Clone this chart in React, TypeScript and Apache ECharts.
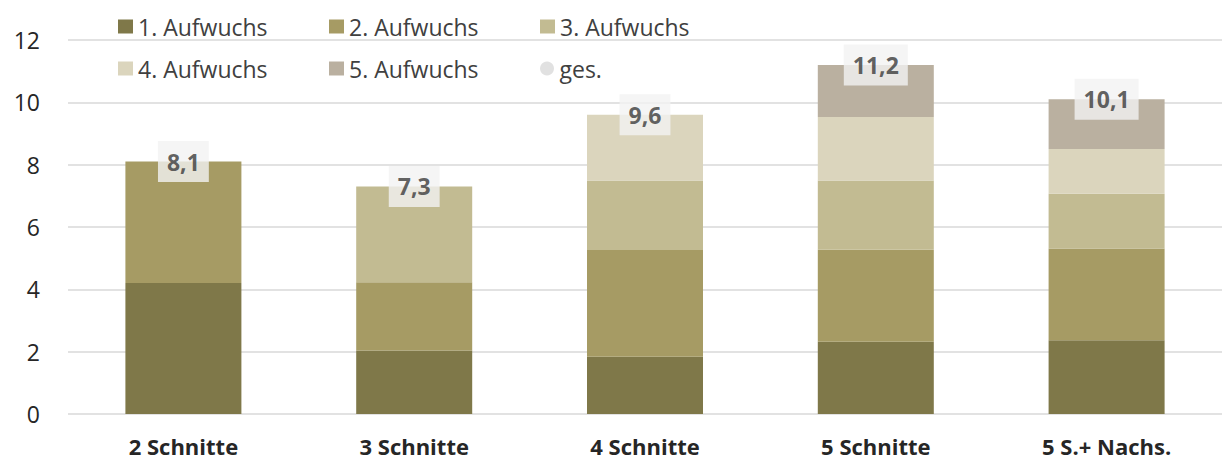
import React, { useEffect, useRef } from "react";
import * as echarts from "echarts";

const categories = ["2 Schnitte", "3 Schnitte", "4 Schnitte", "5 Schnitte", "5 S.+ Nachs."];
const seriesNames = ["1. Aufwuchs", "2. Aufwuchs", "3. Aufwuchs", "4. Aufwuchs", "5. Aufwuchs"];
const aufwuchs1 = [4.2, 2.04, 1.84, 2.32, 2.37];
const aufwuchs2 = [3.9, 2.19, 3.42, 2.95, 2.94];
const aufwuchs3 = [null, 3.07, 2.23, 2.22, 1.76];
const aufwuchs4 = [null, null, 2.11, 2.04, 1.43];
const aufwuchs5 = [null, null, null, 1.67, 1.6];
const totals = [8.1, 7.3, 9.6, 11.2, 10.1];
const totalName = "ges.";
const yTicks = { min: 0, max: 12, interval: 2 };

const colors = ["#7f7849", "#a69b64", "#c2bb92", "#dbd5bd", "#bab0a0"];
const FONT = "'Open Sans', Lato, sans-serif";

export default function App() {
  const ref = useRef<HTMLDivElement>(null);
  useEffect(() => {
    if (!ref.current) return;
    const chart = echarts.init(ref.current, undefined, { renderer: "svg" });
    const stacks = [aufwuchs1, aufwuchs2, aufwuchs3, aufwuchs4, aufwuchs5];
    const barSeries = stacks.map((d, i) => ({
      name: seriesNames[i],
      type: "bar",
      stack: "total",
      data: d,
      barWidth: 116,
      itemStyle: { color: colors[i] },
      emphasis: { disabled: true },
    }));
    const legendCommon = {
      left: 113,
      itemWidth: 15,
      itemHeight: 14,
      itemGap: 15,
      selectedMode: false,
      textStyle: {
        fontFamily: FONT,
        fontSize: 23,
        color: "#404040",
        width: 176,
        lineHeight: 20,
      },
    };
    chart.setOption({
      animation: false,
      textStyle: { fontFamily: FONT },
      legend: [
        {
          ...legendCommon,
          top: 10,
          data: seriesNames.slice(0, 3).map((n) => ({ name: n, icon: "rect" })),
        },
        {
          ...legendCommon,
          top: 52,
          data: [
            ...seriesNames.slice(3, 5).map((n) => ({ name: n, icon: "rect" })),
            { name: totalName, icon: "circle", itemStyle: { color: "#d9d9d9" } },
          ],
        },
      ],
      grid: { left: 68, top: 40, width: 1167, height: 374 },
      xAxis: {
        type: "category",
        data: categories,
        axisLine: { show: false },
        axisTick: { show: false },
        axisLabel: {
          fontFamily: FONT,
          fontSize: 22,
          fontWeight: "bold",
          color: "#262626",
          lineHeight: 20,
          margin: 22,
        },
      },
      yAxis: {
        type: "value",
        min: yTicks.min,
        max: yTicks.max,
        interval: yTicks.interval,
        axisLine: { show: false },
        axisTick: { show: false },
        splitLine: { lineStyle: { color: "#d9d9d9", width: 1.5 } },
        axisLabel: { fontFamily: FONT, fontSize: 23, color: "#262626", margin: 28 },
      },
      series: [
        ...barSeries,
        {
          name: totalName,
          type: "scatter",
          data: totals,
          symbolSize: 0.001,
          itemStyle: { color: "#d9d9d9" },
          z: 10,
          emphasis: { disabled: true },
          label: {
            show: true,
            position: "inside",
            formatter: (p: any) => Number(p.value).toFixed(1).replace(".", ","),
            fontFamily: FONT,
            fontSize: 23,
            fontWeight: "bold",
            color: "#3a3a3a",
            backgroundColor: "#f2f2f2",
            padding: [9, 9, 9, 9],
            lineHeight: 23,
          },
        },
      ],
    });
    return () => chart.dispose();
  }, []);
  return <div ref={ref} style={{ width: 1222, height: 461, position: "absolute", left: 0, top: 0 }} />;
}
